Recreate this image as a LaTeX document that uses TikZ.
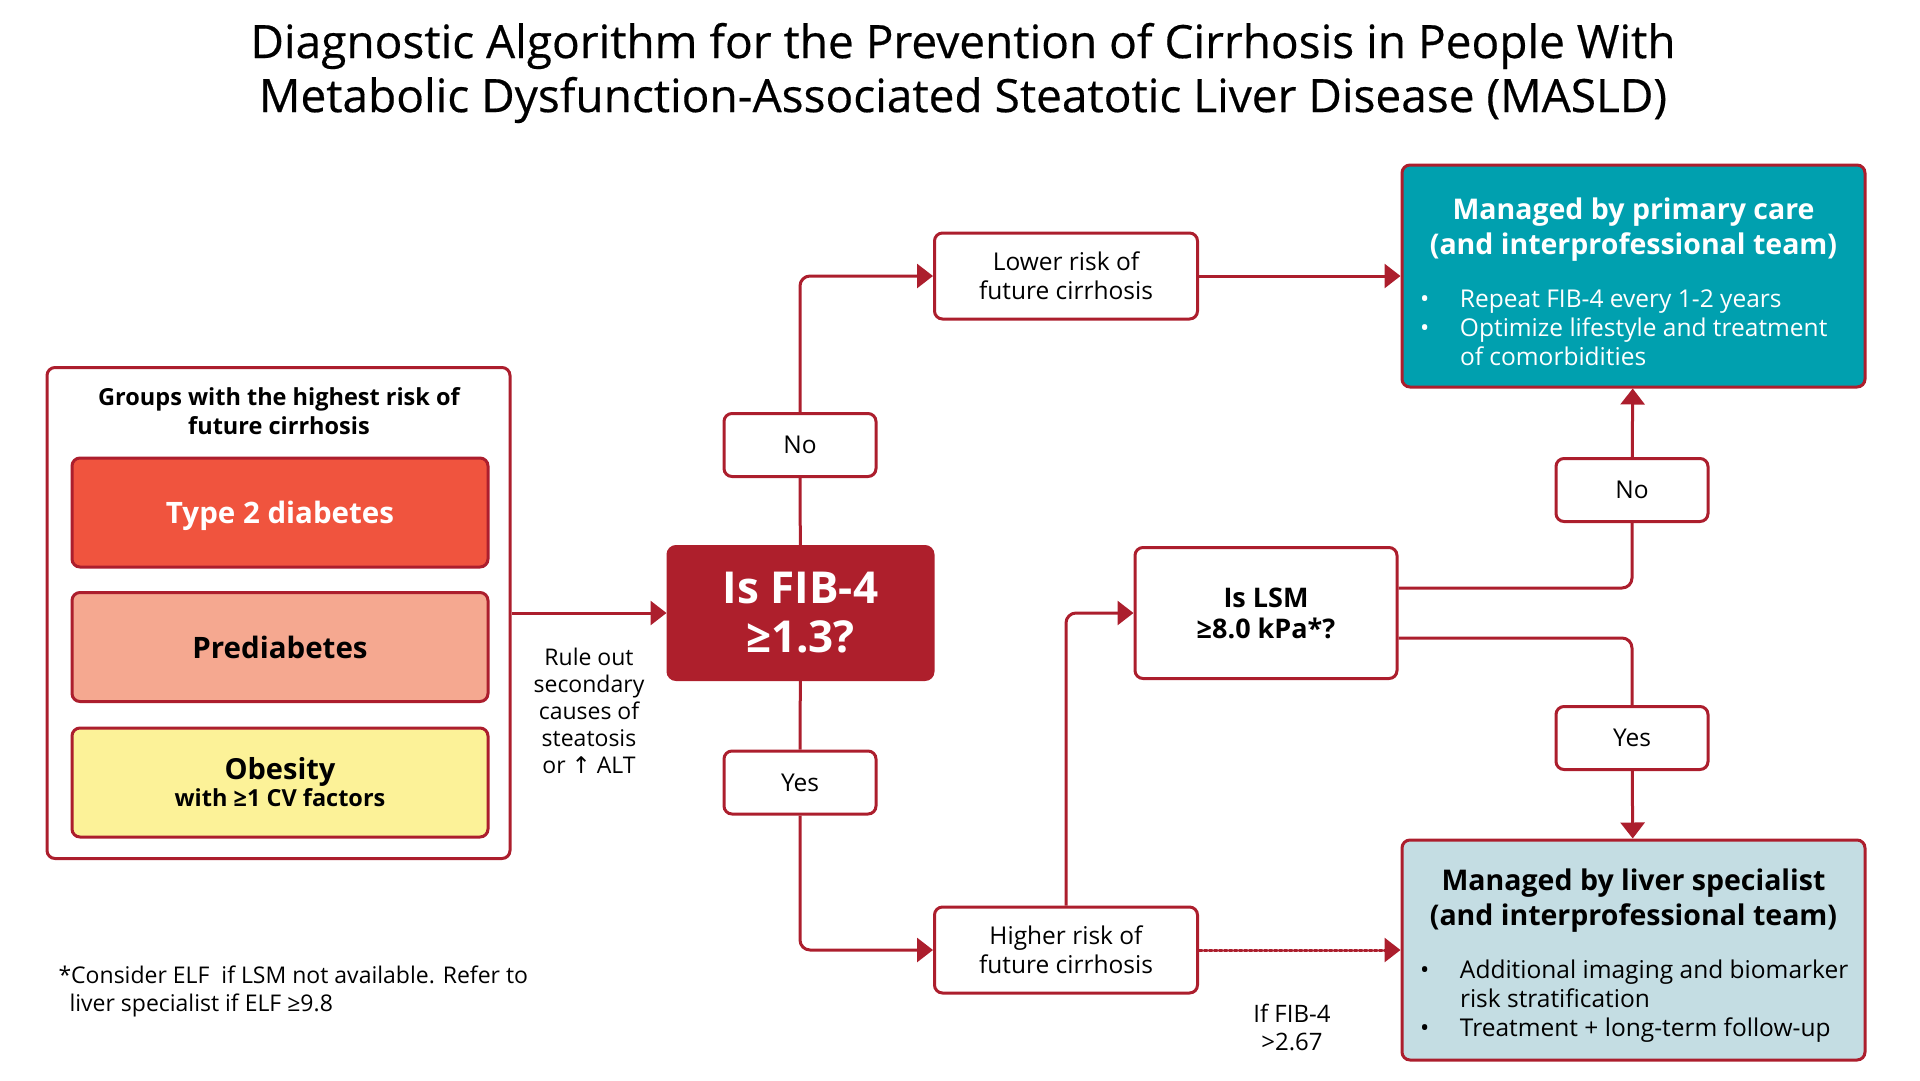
\documentclass[tikz,border=0pt]{standalone}
\usepackage{fontspec}
\setmainfont{Open Sans}
\newfontfamily\symfont{DejaVu Sans}
\usetikzlibrary{arrows.meta}

\definecolor{linered}{RGB}{172,30,45}
\definecolor{firered}{RGB}{174,31,44}
\definecolor{t2dred}{RGB}{240,84,62}
\definecolor{prepink}{RGB}{245,168,144}
\definecolor{obyellow}{RGB}{252,242,152}
\definecolor{careteal}{RGB}{0,160,175}
\definecolor{liverblue}{RGB}{196,221,227}

\newcommand{\fs}[2]{\fontsize{#1}{#2}\selectfont}
\newcommand{\bitem}[1]{\par\noindent\hangindent=49pt\hangafter=1%
  \makebox[49pt][l]{\hspace{9pt}\textbullet}#1\par}
% title plus bullet list of an outcome box
\newcommand{\managetext}[3]{\begin{minipage}{445pt}
  \spaceskip=0pt\xspaceskip=0pt\parskip=0pt\raggedright\fs{24.5}{29}%
  \vspace*{11pt}%
  {\centering\bfseries\fs{28.5}{35.5}#1\par}\vspace{23.5pt}%
  \bitem{#2}\bitem{#3}\end{minipage}}

\begin{document}
\begin{tikzpicture}[x=1pt,y=-1pt,
    box/.style={rectangle, draw=linered, line width=3pt, rounded corners=8pt,
      fill=white, align=center, inner sep=0pt},
    answer/.style={box, minimum width=152pt, minimum height=63pt, font=\fs{24.5}{30}},
    riskbox/.style={box, minimum width=263pt, minimum height=86pt, font=\fs{24.5}{29}},
    groupbox/.style={box, minimum width=416pt, minimum height=109pt},
    manage/.style={box, minimum width=463pt},
    line/.style={draw=linered, line width=3pt, rounded corners=10pt},
    arr/.style={line, -{Triangle[length=16pt,width=24pt]}}]
  \useasboundingbox (0,0) rectangle (1920,1080);

  \node[align=center, font=\fs{46}{54}\addfontfeature{FakeBold=0.4}] (title)
    at (963,73)
    {Diagnostic Algorithm for the Prevention of Cirrhosis in People With\\
     Metabolic Dysfunction-Associated Steatotic Liver Disease (MASLD)};

  % risk groups
  \node[box, minimum width=463pt, minimum height=491pt] (groups) at (278.5,613) {};
  \node[align=center, font=\bfseries\fs{23.5}{29}] (grouptitle) at (279,411)
    {Groups with the highest risk of\\future cirrhosis};
  \node[groupbox, fill=t2dred, text=white, text depth=0pt,
    font=\bfseries\fs{29.5}{34}] (t2d) at (280,512.5) {Type 2 diabetes};
  \node[groupbox, fill=prepink, text depth=0pt, font=\bfseries\fs{29.5}{34}]
    (prediab) at (280,647) {Prediabetes};
  \node[groupbox, fill=obyellow] (obesity) at (280,782.5)
    {{\bfseries\fs{29}{34}Obesity}\\[1pt]{\bfseries\fs{23.5}{28}with ≥1 CV factors}};

  % FIB-4 step
  \node[box, draw=firered, fill=firered, text=white, minimum width=265pt,
    minimum height=133pt, font=\bfseries\fs{44}{49}] (fib) at (800.5,613)
    {Is FIB-4\\≥1.3?};
  \node[align=center, font=\fs{23}{27}] (ruleout) at (589,711)
    {Rule out\\secondary\\causes of\\steatosis\\or {\symfont↑} ALT};
  \node[answer] (nofib) at (800,445) {No};
  \node[answer] (yesfib) at (800,782.5) {Yes};
  \node[riskbox] (lower) at (1066,276) {Lower risk of\\future cirrhosis};
  \node[riskbox] (higher) at (1066,950) {Higher risk of\\future cirrhosis};

  % LSM step
  \node[box, minimum width=262pt, minimum height=131pt,
    font=\bfseries\fs{27}{31}] (lsm) at (1266,613) {Is LSM\\≥8.0 kPa*?};
  \node[answer] (nolsm) at (1632,490) {No};
  \node[answer] (yeslsm) at (1632,738) {Yes};

  % outcomes
  \node[manage, fill=careteal, text=white, minimum height=222pt] (primary)
    at (1633.5,276)
    {\managetext{Managed by primary care\\(and interprofessional team)}
      {Repeat FIB-4 every 1-2 years}
      {Optimize lifestyle and treatment\newline of comorbidities}};
  \node[manage, fill=liverblue, minimum height=220pt] (liver) at (1633.5,950)
    {\managetext{Managed by liver specialist\\(and interprofessional team)}
      {Additional imaging and biomarker\newline risk stratification}
      {Treatment + long-term follow-up}};

  \node[align=center, font=\fs{24}{28}] (fibcut) at (1292,1027) {If FIB-4\\>2.67};
  \node[anchor=west, align=left, font=\fs{23}{28}] (footnote) at (55,991)
    {*Consider ELF\ \ if LSM not available. Refer to\\
     \hspace*{11pt}liver specialist if ELF ≥9.8};

  % connectors
  \draw[arr] (groups) -- (fib);
  \draw[line] (fib) -- (nofib);
  \draw[arr] (nofib.north) |- (lower.west);
  \draw[line] (fib) -- (yesfib);
  \draw[arr] (yesfib.south) |- (higher.west);
  \draw[arr] (lower) -- (primary);
  \draw[arr] (higher.north) |- (lsm.west);
  \draw[arr, dotted, line cap=round] (higher) -- (liver);
  \draw[line] ([yshift=25pt]lsm.east) -| (nolsm.south);
  \draw[arr] (nolsm) -- (primary);
  \draw[line] ([yshift=-25pt]lsm.east) -| (yeslsm.north);
  \draw[arr] (yeslsm) -- (liver);
\end{tikzpicture}
\end{document}
